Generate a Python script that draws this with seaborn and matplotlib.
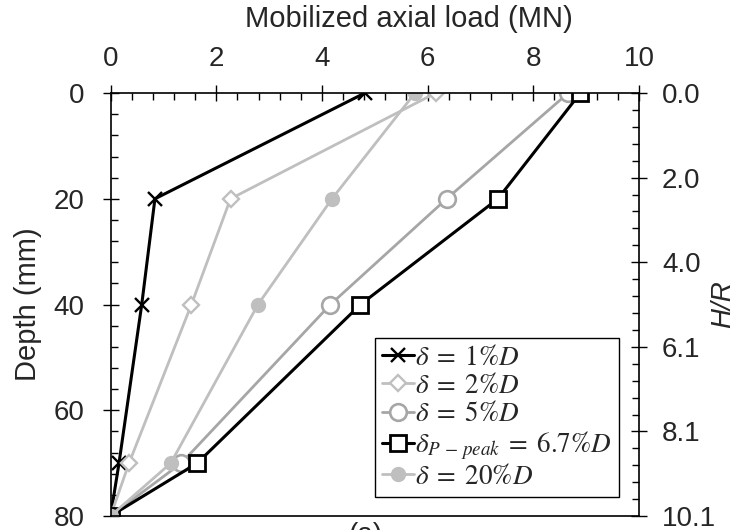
import numpy as np
import pandas as pd
import seaborn as sns
import matplotlib
matplotlib.use("Agg")
import matplotlib.pyplot as plt
from matplotlib.ticker import MultipleLocator, FixedLocator

# Mobilized axial load (MN) along the pile at each measurement depth
depth_mm = [0, 20, 40, 70, 80]
load_1pct = [4.81, 0.84, 0.59, 0.16, 0.0]
load_2pct = [6.15, 2.27, 1.53, 0.35, 0.0]
load_5pct = [8.66, 6.36, 4.16, 1.34, 0.0]
load_peak = [8.89, 7.33, 4.73, 1.64, 0.0]
load_20pct = [5.76, 4.19, 2.79, 1.14, 0.0]

labels = [r"$\delta\;=\;1\%D$", r"$\delta\;=\;2\%D$", r"$\delta\;=\;5\%D$",
          r"$\delta_{P\,-\,peak}\;=\;6.7\%D$", r"$\delta\;=\;20\%D$"]
hr_ticks = [0.0, 2.0, 4.0, 6.1, 8.1, 10.1]
hr_max = 10.1

sns.set_theme(style="white")
plt.rcParams["font.family"] = ["Liberation Sans", "DejaVu Sans"]
plt.rcParams["mathtext.fontset"] = "stix"

frames = []
for lab, vals in zip(labels, [load_1pct, load_2pct, load_5pct, load_peak, load_20pct]):
    frames.append(pd.DataFrame({"load": vals, "depth": depth_mm, "case": lab}))
df = pd.concat(frames, ignore_index=True)

styles = {
    labels[0]: dict(color="black", linewidth=2.2, marker="x", markersize=10.5,
                    markeredgewidth=1.7, markerfacecolor="black", markeredgecolor="black"),
    labels[1]: dict(color="#BFBFBF", linewidth=2.0, marker="D", markersize=8.5,
                    markeredgewidth=1.7, markerfacecolor="white", markeredgecolor="#BFBFBF"),
    labels[2]: dict(color="#A6A6A6", linewidth=2.0, marker="o", markersize=12,
                    markeredgewidth=1.9, markerfacecolor="white", markeredgecolor="#A6A6A6"),
    labels[3]: dict(color="black", linewidth=2.2, marker="s", markersize=11,
                    markeredgewidth=2.0, markerfacecolor="white", markeredgecolor="black"),
    labels[4]: dict(color="#BFBFBF", linewidth=2.0, marker="o", markersize=10,
                    markeredgewidth=1.0, markerfacecolor="#BFBFBF", markeredgecolor="#BFBFBF"),
}

fig = plt.figure(figsize=(7.37, 5.30), dpi=100)
ax = fig.add_axes([0.150, 0.0264, 0.717, 0.798])

for lab in labels:
    sub = df[df["case"] == lab]
    sns.lineplot(data=sub, x="load", y="depth", sort=False, estimator=None,
                 ax=ax, label=lab, **styles[lab])

ax.set_xlim(0, 10)
ax.set_ylim(80, 0)
ax.xaxis.tick_top()
ax.xaxis.set_label_position("top")
ax.set_xlabel("Mobilized axial load (MN)", fontsize=21)
ax.xaxis.set_label_coords(0.564, 1.175)
ax.xaxis.label.set_verticalalignment("center")
ax.set_ylabel("Depth (mm)", fontsize=21)
ax.yaxis.set_label_coords(-0.156, 0.5)
ax.yaxis.label.set_verticalalignment("center")
ax.xaxis.set_major_locator(MultipleLocator(2))
ax.xaxis.set_minor_locator(MultipleLocator(0.4))
ax.yaxis.set_major_locator(MultipleLocator(20))
ax.yaxis.set_minor_locator(MultipleLocator(4))
ax.tick_params(axis="both", which="major", direction="inout", length=11, width=1.0,
               labelsize=20, color="black")
ax.tick_params(axis="x", which="major", top=True, bottom=False, pad=10)
ax.tick_params(axis="y", which="major", pad=13)
ax.tick_params(axis="both", which="minor", direction="in", length=5, width=1.0, color="black")
ax.tick_params(axis="x", which="minor", top=True, bottom=False)
ax.tick_params(axis="y", which="both", left=True, right=False)
for s in ax.spines.values():
    s.set_color("black")
    s.set_linewidth(1.2)

# Secondary scale: normalized depth H/R
ax2 = ax.twinx()
ax2.set_ylim(hr_max, 0)
ax2.yaxis.set_major_locator(FixedLocator(np.linspace(0, hr_max, 6)))
ax2.yaxis.set_minor_locator(FixedLocator(np.linspace(0, hr_max, 26)))
ax2.set_yticklabels([f"{v:.1f}" for v in hr_ticks])
ax2.tick_params(axis="y", which="major", direction="inout", length=11, width=1.0,
                labelsize=20, color="black", pad=11)
ax2.tick_params(axis="y", which="minor", direction="in", length=5, width=1.0, color="black")
ax2.set_ylabel("H/R", fontsize=20, style="italic")
ax2.yaxis.set_label_coords(1.160, 0.5)
ax2.yaxis.label.set_verticalalignment("center")
ax2.grid(False)
for s in ax2.spines.values():
    s.set_visible(False)

leg = ax.legend(loc="upper left", bbox_to_anchor=(0.5, 0.421), fontsize=19.5,
                frameon=True, fancybox=False, edgecolor="black", framealpha=1,
                handlelength=1.2, handletextpad=0.05, labelspacing=0.08,
                borderpad=0.25, borderaxespad=0.0)
leg.get_frame().set_linewidth(1.0)

fig.text(0.495, 0.016, "(a)", fontsize=20, ha="center", va="top")

fig.savefig("out.png", dpi=100)
